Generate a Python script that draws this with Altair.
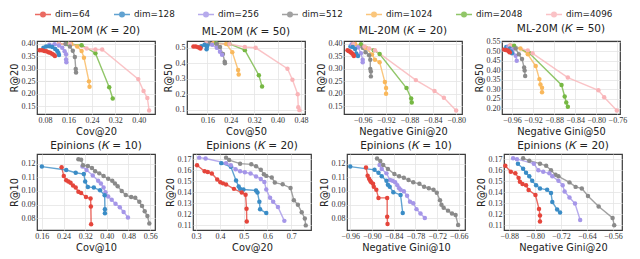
import altair as alt
import pandas as pd

DIMS = [64, 128, 256, 512, 1024, 2048, 4096]
LABELS = [f"dim={d}" for d in DIMS]
COLORS = ["#e5453b", "#3a8cc6", "#a596e8", "#8a8a8a", "#f9b85c", "#76b843", "#f9b4b8"]

# ---- ML-20M, K=20 : Cov@20 vs R@20
MLA_X = {64: [0.062, 0.070, 0.078, 0.085, 0.092, 0.098, 0.104, 0.110, 0.114],
         128: [0.075, 0.084, 0.095, 0.105, 0.115, 0.122, 0.126, 0.128],
         256: [0.095, 0.113, 0.128, 0.139, 0.147, 0.152, 0.152, 0.153],
         512: [0.128, 0.150, 0.165, 0.175, 0.182, 0.185, 0.186],
         1024: [0.128, 0.170, 0.190, 0.205, 0.213, 0.230, 0.232],
         2048: [0.155, 0.205, 0.252, 0.299, 0.311],
         4096: [0.128, 0.165, 0.222, 0.252, 0.275, 0.398, 0.416, 0.429, 0.435]}
MLA_Y = {64: [0.375, 0.375, 0.372, 0.371, 0.367, 0.365, 0.361, 0.357, 0.352],
         128: [0.385, 0.390, 0.391, 0.388, 0.380, 0.372, 0.364, 0.356],
         256: [0.397, 0.399, 0.394, 0.385, 0.371, 0.359, 0.338, 0.327],
         512: [0.400, 0.400, 0.390, 0.373, 0.348, 0.300, 0.286],
         1024: [0.400, 0.400, 0.390, 0.372, 0.345, 0.250, 0.228],
         2048: [0.400, 0.395, 0.363, 0.226, 0.181],
         4096: [0.400, 0.400, 0.382, 0.378, 0.378, 0.259, 0.211, 0.183, 0.133]}

# ---- ML-20M, K=50 : Cov@50 vs R@50
MLB_X = {64: [0.112, 0.120, 0.128, 0.134, 0.136],
         128: [0.139, 0.150, 0.160, 0.158, 0.157],
         256: [0.155, 0.176, 0.192, 0.203, 0.210],
         512: [0.165, 0.192, 0.203, 0.213, 0.219, 0.220],
         1024: [0.180, 0.224, 0.245, 0.265, 0.267],
         2048: [0.190, 0.235, 0.288, 0.336, 0.347],
         4096: [0.155, 0.235, 0.288, 0.325, 0.434, 0.451, 0.469, 0.471, 0.475]}
MLB_Y = {64: [0.508, 0.508, 0.503, 0.500, 0.496],
         128: [0.510, 0.520, 0.515, 0.505, 0.490],
         256: [0.525, 0.520, 0.500, 0.475, 0.455],
         512: [0.530, 0.525, 0.505, 0.460, 0.410, 0.400],
         1024: [0.530, 0.525, 0.472, 0.357, 0.328],
         2048: [0.530, 0.525, 0.485, 0.323, 0.250],
         4096: [0.530, 0.525, 0.505, 0.500, 0.365, 0.293, 0.200, 0.115, 0.097]}

# ---- ML-20M, K=20 : Negative Gini@20 vs R@20
MLC_X = {64: [-0.986, -0.984, -0.982, -0.980, -0.978, -0.976, -0.975],
         128: [-0.981, -0.977, -0.973, -0.971, -0.968],
         256: [-0.979, -0.968, -0.963, -0.960, -0.960],
         512: [-0.976, -0.960, -0.955, -0.949, -0.947, -0.947, -0.946, -0.946],
         1024: [-0.973, -0.955, -0.944, -0.939, -0.931, -0.922, -0.920, -0.920],
         2048: [-0.963, -0.941, -0.931, -0.885, -0.877, -0.876],
         4096: [-0.976, -0.957, -0.949, -0.939, -0.869, -0.837, -0.821, -0.800]}
MLC_Y = {64: [0.375, 0.372, 0.370, 0.366, 0.362, 0.357, 0.352],
         128: [0.390, 0.388, 0.380, 0.362, 0.352],
         256: [0.398, 0.387, 0.363, 0.337, 0.327],
         512: [0.400, 0.385, 0.367, 0.355, 0.337, 0.300, 0.290, 0.270],
         1024: [0.400, 0.385, 0.358, 0.337, 0.327, 0.247, 0.223, 0.200],
         2048: [0.399, 0.375, 0.360, 0.223, 0.181, 0.165],
         4096: [0.400, 0.390, 0.382, 0.375, 0.255, 0.211, 0.184, 0.133]}

# ---- ML-20M, K=50 : Negative Gini@50 vs R@50
MLD_X = {64: [-0.975, -0.972, -0.968, -0.966, -0.964],
         128: [-0.971, -0.964, -0.962, -0.960],
         256: [-0.967, -0.959, -0.953, -0.951],
         512: [-0.964, -0.953, -0.947, -0.941, -0.937, -0.936, -0.935],
         1024: [-0.962, -0.944, -0.930, -0.915, -0.908, -0.906, -0.903, -0.903],
         2048: [-0.956, -0.927, -0.866, -0.860, -0.857, -0.854],
         4096: [-0.964, -0.930, -0.921, -0.854, -0.796, -0.785, -0.761]}
MLD_Y = {64: [0.510, 0.508, 0.505, 0.500, 0.495],
         128: [0.523, 0.515, 0.500, 0.490],
         256: [0.526, 0.510, 0.477, 0.451],
         512: [0.530, 0.515, 0.485, 0.460, 0.415, 0.400, 0.370],
         1024: [0.530, 0.515, 0.485, 0.423, 0.354, 0.326, 0.308, 0.285],
         2048: [0.530, 0.490, 0.323, 0.262, 0.231, 0.208],
         4096: [0.530, 0.505, 0.490, 0.362, 0.295, 0.258, 0.188]}

# ---- Epinions, K=10 : Cov@10 vs R@10
EPA_X = {64: [0.233, 0.241, 0.250, 0.258, 0.266, 0.275, 0.285, 0.295, 0.305, 0.323, 0.340, 0.341, 0.342],
         128: [0.160, 0.250, 0.285, 0.315, 0.320, 0.330, 0.352, 0.375, 0.392, 0.393, 0.393],
         256: [0.310, 0.325, 0.348, 0.368, 0.378, 0.388, 0.395, 0.405, 0.418, 0.432, 0.448, 0.462, 0.478],
         512: [0.295, 0.305, 0.312, 0.330, 0.345, 0.357, 0.372, 0.388, 0.405, 0.420, 0.430, 0.440, 0.455,
               0.470, 0.490, 0.505, 0.520, 0.530, 0.540, 0.550, 0.557]}
EPA_Y = {64: [0.1175, 0.1110, 0.1080, 0.1070, 0.1060, 0.1040, 0.1025, 0.0995, 0.0985, 0.0955, 0.0945, 0.0885, 0.0755],
         128: [0.1180, 0.1155, 0.1135, 0.1125, 0.1070, 0.1030, 0.1025, 0.1005, 0.0968, 0.0865, 0.0835],
         256: [0.1180, 0.1155, 0.1115, 0.1075, 0.1055, 0.1025, 0.0990, 0.0960, 0.0935, 0.0905, 0.0880, 0.0845, 0.0805],
         512: [0.1235, 0.1230, 0.1190, 0.1185, 0.1170, 0.1145, 0.1130, 0.1110, 0.1090, 0.1075, 0.1055, 0.1035, 0.1000,
               0.0970, 0.0955, 0.0950, 0.0920, 0.0890, 0.0850, 0.0815, 0.0760]}

# ---- Epinions, K=20 : Cov@20 vs R@20
EPB_X = {64: [0.304, 0.336, 0.349, 0.366, 0.389, 0.402, 0.413, 0.426, 0.459, 0.492, 0.508, 0.512, 0.513],
         128: [0.406, 0.446, 0.468, 0.479, 0.485, 0.499, 0.552, 0.558, 0.566, 0.569, 0.595],
         256: [0.313, 0.340, 0.426, 0.446, 0.466, 0.485, 0.505, 0.529, 0.552, 0.572, 0.587, 0.595, 0.611, 0.624,
               0.644, 0.671],
         512: [0.426, 0.439, 0.485, 0.532, 0.552, 0.572, 0.585, 0.595, 0.618, 0.631, 0.664, 0.697, 0.711, 0.728,
               0.744, 0.757, 0.761]}
EPB_Y = {64: [0.1645, 0.1590, 0.1584, 0.1570, 0.1515, 0.1490, 0.1480, 0.1470, 0.1430, 0.1396, 0.1377, 0.1250, 0.1134],
         128: [0.1664, 0.1631, 0.1507, 0.1451, 0.1430, 0.1424, 0.1415, 0.1396, 0.1313, 0.1244, 0.1210],
         256: [0.1714, 0.1706, 0.1664, 0.1645, 0.1609, 0.1590, 0.1581, 0.1570, 0.1543, 0.1520, 0.1493, 0.1424, 0.1349,
               0.1313, 0.1266, 0.1139],
         512: [0.1714, 0.1692, 0.1659, 0.1653, 0.1636, 0.1603, 0.1562, 0.1548, 0.1534, 0.1487, 0.1471, 0.1438, 0.1327,
               0.1286, 0.1217, 0.1161, 0.1098]}

# ---- Epinions, K=10 : Negative Gini@10 vs R@10
EPC_X = {64: [-0.9165, -0.912, -0.908, -0.905, -0.902, -0.897, -0.895, -0.888, -0.882, -0.858, -0.858, -0.857],
         128: [-0.960, -0.893, -0.882, -0.873, -0.860, -0.856, -0.851, -0.841, -0.821, -0.815],
         256: [-0.879, -0.873, -0.860, -0.850, -0.843, -0.836, -0.830, -0.825, -0.821, -0.812, -0.803, -0.795,
               -0.786, -0.777, -0.766, -0.754],
         512: [-0.886, -0.877, -0.869, -0.856, -0.838, -0.825, -0.812, -0.799, -0.786, -0.769, -0.756, -0.743,
               -0.730, -0.721, -0.712, -0.708, -0.702, -0.690, -0.679, -0.669, -0.662]}
EPC_Y = {64: [0.1174, 0.1112, 0.1090, 0.1075, 0.1064, 0.1053, 0.1031, 0.1009, 0.0949, 0.0949, 0.0809, 0.0756],
         128: [0.1180, 0.1156, 0.1134, 0.1108, 0.1075, 0.1046, 0.1031, 0.0991, 0.0971, 0.0837],
         256: [0.1191, 0.1163, 0.1130, 0.1081, 0.1075, 0.1064, 0.1042, 0.1020, 0.1009, 0.0998, 0.0965, 0.0921,
               0.0910, 0.0866, 0.0833, 0.0800],
         512: [0.1240, 0.1222, 0.1191, 0.1163, 0.1125, 0.1108, 0.1097, 0.1081, 0.1064, 0.1053, 0.1031, 0.1020,
               0.1009, 0.0987, 0.0932, 0.0899, 0.0877, 0.0855, 0.0833, 0.0822, 0.0749]}

# ---- Epinions, K=20 : Negative Gini@20 vs R@20
EPD_X = {64: [-0.892, -0.875, -0.861, -0.851, -0.847, -0.839, -0.828, -0.820, -0.799, -0.788, -0.785, -0.785],
         128: [-0.853, -0.837, -0.828, -0.818, -0.809, -0.797, -0.785, -0.763, -0.751, -0.747, -0.732, -0.723],
         256: [-0.868, -0.856, -0.804, -0.790, -0.775, -0.756, -0.747, -0.728, -0.715, -0.709, -0.694, -0.677, -0.661],
         512: [-0.837, -0.818, -0.785, -0.766, -0.751, -0.737, -0.728, -0.694, -0.675, -0.656, -0.637, -0.604,
               -0.561, -0.556]}
EPD_Y = {64: [0.1640, 0.1585, 0.1571, 0.1530, 0.1495, 0.1475, 0.1462, 0.1420, 0.1374, 0.1248, 0.1188, 0.1133],
         128: [0.1659, 0.1612, 0.1577, 0.1544, 0.1503, 0.1462, 0.1434, 0.1421, 0.1393, 0.1311, 0.1242, 0.1215],
         256: [0.1708, 0.1700, 0.1659, 0.1599, 0.1585, 0.1571, 0.1544, 0.1503, 0.1462, 0.1407, 0.1352, 0.1297, 0.1147],
         512: [0.1708, 0.1686, 0.1659, 0.1640, 0.1599, 0.1558, 0.1544, 0.1489, 0.1448, 0.1434, 0.1366, 0.1270,
               0.1166, 0.1100]}

W = 118
H1 = 73
H2 = 76

SERIF = "Liberation Serif"
SANS = "DejaVu Sans"

LEGEND = alt.Legend(
    title=None, orient="top", direction="horizontal",
    symbolType="M-1.6,0H1.6M-0.45,0A0.45,0.45,0,1,1,0.45,0A0.45,0.45,0,1,1,-0.45,0Z",
    symbolSize=100, symbolStrokeWidth=1.5,
    labelFont=SANS, labelFontSize=8.8, labelColor="#222",
    columnPadding=20, labelOffset=6, padding=0, offset=3,
)


def panel(title, xs, ys, xtitle, ytitle, xdom, ydom, xticks, yticks, xfmt, yfmt, h):
    rows = []
    for d in DIMS:
        if d not in xs:
            continue
        for i, (a, b) in enumerate(zip(xs[d], ys[d])):
            rows.append({"dim": f"dim={d}", "x": a, "y": b, "i": i})
    df = pd.DataFrame(rows)
    return alt.Chart(df).mark_line(
        strokeWidth=1.4, opacity=0.8,
        point=alt.OverlayMarkDef(filled=True, size=20, opacity=1),
    ).encode(
        x=alt.X("x:Q", scale=alt.Scale(domain=xdom, nice=False, zero=False),
                axis=alt.Axis(values=xticks, format=xfmt, title=xtitle)),
        y=alt.Y("y:Q", scale=alt.Scale(domain=ydom, nice=False, zero=False),
                axis=alt.Axis(values=yticks, format=yfmt, title=ytitle)),
        color=alt.Color("dim:N", scale=alt.Scale(domain=LABELS, range=COLORS), legend=LEGEND),
        order="i:Q",
    ).properties(width=W, height=h, title=title)


p1 = panel("ML-20M (𝐾 = 20)", MLA_X, MLA_Y, "Cov@20", "R@20", [0.053, 0.455], [0.119, 0.412],
           [0.08, 0.16, 0.24, 0.32, 0.40], [0.15, 0.20, 0.25, 0.30, 0.35, 0.40], ".2f", ".2f", H1)
p2 = panel("ML-20M (𝐾 = 50)", MLB_X, MLB_Y, "Cov@50", "R@50", [0.09, 0.494], [0.072, 0.544],
           [0.16, 0.24, 0.32, 0.40, 0.48], [0.1, 0.2, 0.3, 0.4, 0.5], ".2f", ".1f", H1)
p3 = panel("ML-20M (𝐾 = 20)", MLC_X, MLC_Y, "Negative Gini@20", "R@20", [-0.992, -0.790], [0.119, 0.412],
           [-0.96, -0.92, -0.88, -0.84, -0.80], [0.15, 0.20, 0.25, 0.30, 0.35, 0.40], ".2f", ".2f", H1)
p4 = panel("ML-20M (𝐾 = 50)", MLD_X, MLD_Y, "Negative Gini@50", "R@50", [-0.979, -0.755], [0.17, 0.555],
           [-0.96, -0.92, -0.88, -0.84, -0.80, -0.76], [0.20, 0.25, 0.30, 0.35, 0.40, 0.45, 0.50, 0.55],
           ".2f", ".2f", H1)
p5 = panel("Epinions (𝐾 = 10)", EPA_X, EPA_Y, "Cov@10", "R@10", [0.142, 0.578], [0.0712, 0.1273],
           [0.16, 0.24, 0.32, 0.40, 0.48, 0.56], [0.08, 0.09, 0.10, 0.11, 0.12], ".2f", ".2f", H2)
p6 = panel("Epinions (𝐾 = 20)", EPB_X, EPB_Y, "Cov@20", "R@20", [0.287, 0.783], [0.1056, 0.1747],
           [0.3, 0.4, 0.5, 0.6, 0.7], [0.11, 0.12, 0.13, 0.14, 0.15, 0.16, 0.17], ".1f", ".2f", H2)
p7 = panel("Epinions (𝐾 = 10)", EPC_X, EPC_Y, "Negative Gini@10", "R@10", [-0.969, -0.643], [0.0712, 0.1273],
           [-0.96, -0.90, -0.84, -0.78, -0.72, -0.66], [0.08, 0.09, 0.10, 0.11, 0.12], ".2f", ".2f", H2)
p8 = panel("Epinions (𝐾 = 20)", EPD_X, EPD_Y, "Negative Gini@20", "R@20", [-0.896, -0.532], [0.1056, 0.1747],
           [-0.88, -0.80, -0.72, -0.64, -0.56], [0.11, 0.12, 0.13, 0.14, 0.15, 0.16, 0.17], ".2f", ".2f", H2)

row1 = alt.hconcat(p1, p2, p3, p4, spacing=6)
row2 = alt.hconcat(p5, p6, p7, p8, spacing=6)

chart = alt.vconcat(row1, row2, spacing=2).resolve_scale(color="shared").configure(
    padding=0, background="white"
).configure_view(
    stroke="#3a3a3a", strokeWidth=1.2
).configure_axis(
    domain=False, ticks=False, grid=True, gridColor="#e4e4e4", gridWidth=0.8,
    labelFont=SERIF, labelFontSize=8, labelColor="#333", labelPadding=2, labelOverlap=False,
    titleFont=SANS, titleFontSize=9.8, titleFontWeight="normal", titleColor="#222", titlePadding=2,
).configure_title(
    font=SANS, fontSize=10.5, fontWeight="normal", color="#222", offset=3,
)

chart.save("out.html", embed_options={"renderer": "svg", "actions": False})
